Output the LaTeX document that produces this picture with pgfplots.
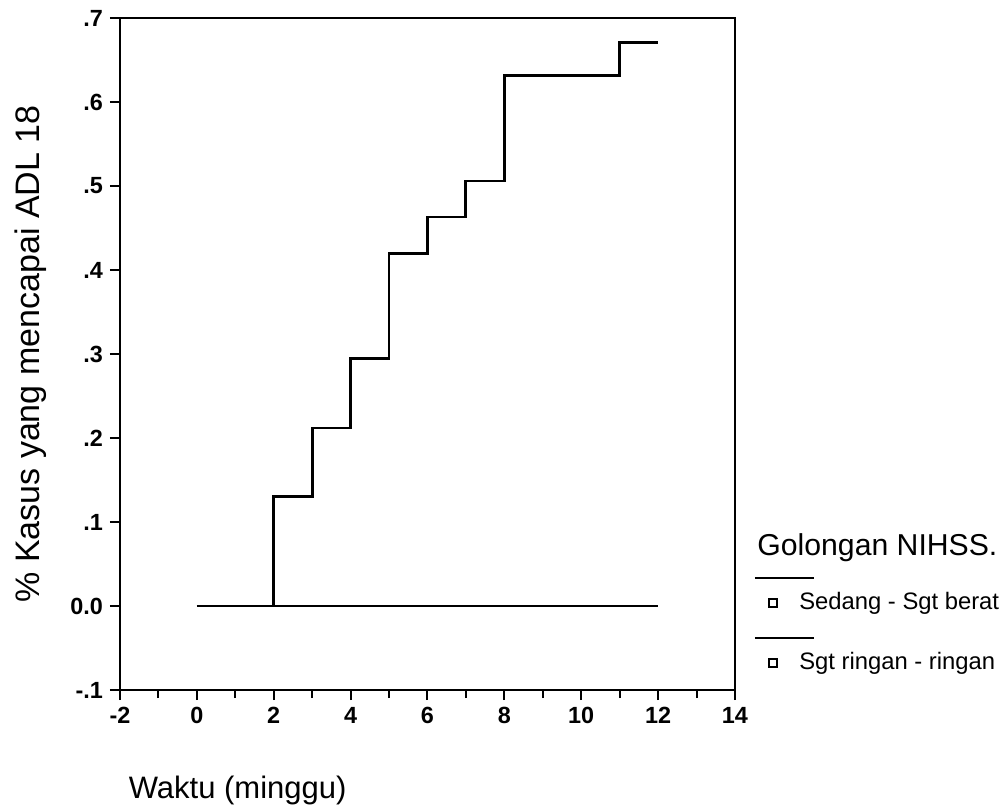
\documentclass[border=0pt]{standalone}
\usepackage{pgfplots}
\pgfplotsset{compat=1.18}
\usepackage{fontspec}
\setmainfont{Liberation Sans}

\begin{document}
\begin{tikzpicture}
\begin{axis}[
  width=307.5pt, height=336pt, scale only axis,
  xmin=-2, xmax=14, ymin=-0.1, ymax=0.7,
  xtick={-2,0,...,14}, minor xtick={-1,1,...,13},
  ytick={-0.1,0,0.1,0.2,0.3,0.4,0.5,0.6,0.7},
  yticklabels={-.1,0.0,.1,.2,.3,.4,.5,.6,.7},
  tick align=outside, xtick pos=bottom, ytick pos=left,
  axis line style={line width=1.4pt},
  major tick length=5pt, minor tick length=4pt,
  every tick/.style={line width=1pt, black},
  ticklabel style={font=\fontsize{11.7}{13}\selectfont\bfseries},
  /pgf/number format/assume math mode=true,
  clip=false,
]
% Sedang - Sgt berat
\addplot[const plot, line width=0.8pt] coordinates {(0,0) (12,0)};
% Sgt ringan - ringan
\addplot[const plot, line width=1.4pt] coordinates {
(0,0) (2,0.130) (3,0.212) (4,0.295) (5,0.420) (6,0.463) (7,0.506) (8,0.632) (11,0.671) (12,0.671)
};

\node[rotate=90, font=\fontsize{17}{20}\selectfont] at (rel axis cs:-0.145,0.5) {\% Kasus yang mencapai ADL 18};
\node[anchor=west, font=\fontsize{15.5}{18}\selectfont] at (rel axis cs:0.003,-0.149) {Waktu (minggu)};

% legend
\node[anchor=west, inner sep=0pt, font=\fontsize{15.1}{18}\selectfont] at (rel axis cs:1.0358,0.2113) {Golongan NIHSS.};
\draw[line width=0.8pt] (rel axis cs:1.0325,0.1667) -- (rel axis cs:1.1285,0.1667);
\node[draw, line width=0.6pt, minimum size=4pt, inner sep=0pt] at (rel axis cs:1.0618,0.1295) {};
\node[anchor=west, inner sep=0pt, font=\fontsize{11.9}{14}\selectfont] at (rel axis cs:1.104,0.1295) {Sedang - Sgt berat};
\draw[line width=1.4pt] (rel axis cs:1.0325,0.0774) -- (rel axis cs:1.1285,0.0774);
\node[draw, line width=0.6pt, minimum size=4pt, inner sep=0pt] at (rel axis cs:1.0618,0.0402) {};
\node[anchor=west, inner sep=0pt, font=\fontsize{11.9}{14}\selectfont] at (rel axis cs:1.104,0.0402) {Sgt ringan - ringan};

\path (rel axis cs:-0.195,-0.1726) rectangle (rel axis cs:1.4407,1.0268);
\end{axis}
\end{tikzpicture}
\end{document}
